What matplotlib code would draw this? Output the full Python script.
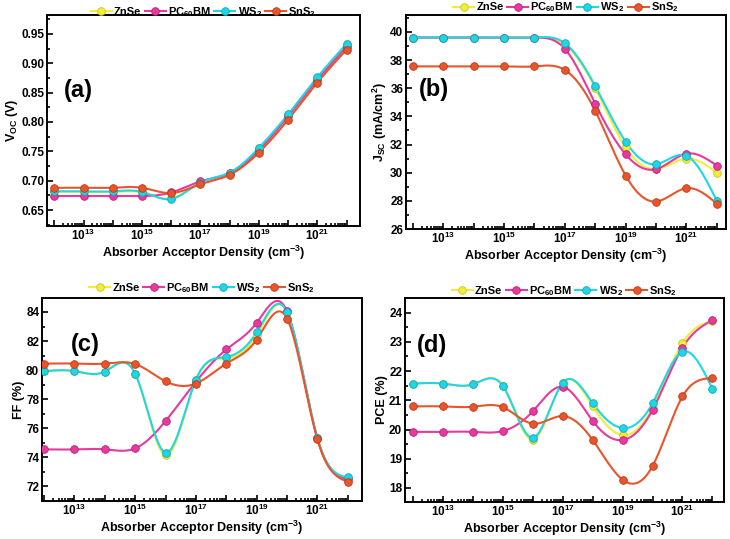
import numpy as np
import matplotlib
matplotlib.use('Agg')
import matplotlib.pyplot as plt
from matplotlib.ticker import FixedLocator, FuncFormatter, MultipleLocator

plt.rcParams['font.family'] = ['Liberation Sans', 'DejaVu Sans']
plt.rcParams['font.weight'] = 'bold'
plt.rcParams['mathtext.fontset'] = 'custom'
plt.rcParams['mathtext.rm'] = 'Liberation Sans:bold'
plt.rcParams['mathtext.it'] = 'Liberation Sans:bold'
plt.rcParams['mathtext.bf'] = 'Liberation Sans:bold'
plt.rcParams['mathtext.default'] = 'bf'

# absorber acceptor density (cm^-3)
density = [1e12, 1e13, 1e14, 1e15, 1e16, 1e17, 1e18, 1e19, 1e20, 1e21, 1e22]

names = ['ZnSe', 'PC$_{60}$BM', 'WS$_2$', 'SnS$_2$']
colors = ['#F2EE38', '#E8399F', '#1FD6E6', '#E8552B']
edges = ['#C9C420', '#B8207A', '#12A8B8', '#B83A18']

voc_znse = [0.681, 0.681, 0.681, 0.680, 0.670, 0.697, 0.713, 0.755, 0.812, 0.875, 0.932]
voc_pcbm = [0.674, 0.674, 0.674, 0.674, 0.680, 0.699, 0.713, 0.752, 0.810, 0.872, 0.928]
voc_ws2 = [0.682, 0.682, 0.682, 0.681, 0.669, 0.697, 0.714, 0.756, 0.813, 0.876, 0.933]
voc_sns2 = [0.688, 0.688, 0.688, 0.688, 0.679, 0.694, 0.710, 0.748, 0.804, 0.867, 0.923]

jsc_znse = [39.6, 39.6, 39.6, 39.6, 39.6, 39.1, 36.0, 31.8, 30.25, 31.0, 30.0]
jsc_pcbm = [39.6, 39.6, 39.6, 39.6, 39.6, 38.8, 34.9, 31.3, 30.25, 31.35, 30.5]
jsc_ws2 = [39.6, 39.6, 39.6, 39.6, 39.6, 39.2, 36.15, 32.2, 30.6, 31.2, 28.0]
jsc_sns2 = [37.55, 37.55, 37.55, 37.55, 37.55, 37.3, 34.4, 29.8, 27.95, 28.9, 27.8]

ff_znse = [79.93, 79.93, 79.9, 79.75, 74.15, 79.3, 80.8, 82.4, 84.0, 75.3, 72.6]
ff_pcbm = [74.55, 74.55, 74.55, 74.62, 76.5, 79.2, 81.42, 83.25, 84.05, 75.3, 72.5]
ff_ws2 = [79.93, 79.93, 79.9, 79.75, 74.33, 79.35, 80.9, 82.6, 84.0, 75.35, 72.62]
ff_sns2 = [80.45, 80.45, 80.45, 80.42, 79.23, 79.08, 80.45, 82.1, 83.55, 75.25, 72.33]

pce_znse = [21.57, 21.57, 21.55, 21.48, 19.65, 21.6, 20.79, 19.81, 20.75, 22.96, 23.72]
pce_pcbm = [19.92, 19.92, 19.92, 19.95, 20.63, 21.46, 20.29, 19.64, 20.67, 22.8, 23.74]
pce_ws2 = [21.57, 21.57, 21.55, 21.48, 19.72, 21.6, 20.9, 20.05, 20.9, 22.66, 21.4]
pce_sns2 = [20.79, 20.79, 20.78, 20.76, 20.2, 20.46, 19.64, 18.28, 18.75, 21.13, 21.76]

panels = [
    ('(a)', 'V$_{OC}$ (V)', [voc_znse, voc_pcbm, voc_ws2, voc_sns2]),
    ('(b)', 'J$_{SC}$ (mA/cm$^2$)', [jsc_znse, jsc_pcbm, jsc_ws2, jsc_sns2]),
    ('(c)', 'FF (%)', [ff_znse, ff_pcbm, ff_ws2, ff_sns2]),
    ('(d)', 'PCE (%)', [pce_znse, pce_pcbm, pce_ws2, pce_sns2]),
]

# axes boxes in pixels: left, right, top, bottom
boxes = [(47, 360, 15, 226), (406, 726, 15, 229), (42, 362, 298, 501), (405, 724, 298, 502)]
xlims = [(11.75, 22.46), (11.78, 22.3), (11.93, 22.47), (11.72, 22.39)]
ylims = [(0.623, 0.982), (26, 41.2), (71.0, 84.96), (17.52, 24.5)]
ymajor = [0.05, 2, 2, 1]
yminor = [0.025, 1, 1, 0.5]
label_pos = [(0.10, 0.64), (0.086, 0.65), (0.134, 0.77), (0.085, 0.765)]
legend_y = [1.015, 1.036, 1.05, 1.035]


def NaturalSpline(xp, yp, num=400):
    xp = np.asarray(xp, float)
    yp = np.asarray(yp, float)
    n = len(xp)
    h = np.diff(xp)
    A = np.zeros((n, n))
    b = np.zeros(n)
    A[0, 0] = 1
    A[-1, -1] = 1
    for i in range(1, n - 1):
        A[i, i - 1] = h[i - 1]
        A[i, i] = 2 * (h[i - 1] + h[i])
        A[i, i + 1] = h[i]
        b[i] = 6 * ((yp[i + 1] - yp[i]) / h[i] - (yp[i] - yp[i - 1]) / h[i - 1])
    M = np.linalg.solve(A, b)
    xs = np.linspace(xp[0], xp[-1], num)
    idx = np.clip(np.searchsorted(xp, xs) - 1, 0, n - 2)
    x0, x1 = xp[idx], xp[idx + 1]
    hh = x1 - x0
    t0, t1 = x1 - xs, xs - x0
    ys = (M[idx] * t0 ** 3 / (6 * hh) + M[idx + 1] * t1 ** 3 / (6 * hh)
          + (yp[idx] / hh - M[idx] * hh / 6) * t0
          + (yp[idx + 1] / hh - M[idx + 1] * hh / 6) * t1)
    return xs, ys


def DecadeLabel(value, pos):
    e = int(round(np.log10(value)))
    if e % 2 == 1:
        return r'10$^{%d}$' % e
    return ''


fig = plt.figure(figsize=(7.3, 5.39), dpi=100)
W, H = 730, 539
logx = np.log10(density)

for k, (tag, ylabel, series) in enumerate(panels):
    l, r, t, btm = boxes[k]
    ax = fig.add_axes([l / W, 1 - btm / H, (r - l) / W, (btm - t) / H])
    handles = []
    for name, col, ec, vals in zip(names, colors, edges, series):
        xs, ys = NaturalSpline(logx, vals)
        ax.plot(10 ** xs, ys, color=col, lw=1.5, zorder=2)
        ax.plot(density, vals, 'o', ms=5.5, mfc=col, mec=ec, mew=0.6, zorder=3)
        h, = ax.plot([], [], color=col, lw=1.5, marker='o', ms=5.5, mfc=col, mec=ec, mew=0.6)
        handles.append(h)
    ax.set_xscale('log')
    ax.set_xlim(10 ** xlims[k][0], 10 ** xlims[k][1])
    ax.set_ylim(*ylims[k])
    ax.xaxis.set_major_locator(FixedLocator(density))
    ax.xaxis.set_major_formatter(FuncFormatter(DecadeLabel))
    ax.xaxis.set_minor_locator(FixedLocator([m * d for d in density[:-1] for m in range(2, 10)]))
    ax.yaxis.set_major_locator(MultipleLocator(ymajor[k]))
    ax.yaxis.set_minor_locator(MultipleLocator(yminor[k]))
    ax.tick_params(which='both', direction='in', top=False, right=False, labelsize=8.5, width=1.2)
    ax.tick_params(which='major', length=4)
    ax.tick_params(which='minor', length=2)
    ax.tick_params(axis='x', pad=1.5)
    ax.tick_params(axis='y', pad=2)
    for s in ax.spines.values():
        s.set_linewidth(1.4)
    ax.set_xlabel('Absorber Acceptor Density (cm$^{-3}$)', fontsize=9, fontweight='bold', labelpad=0.5)
    ax.set_ylabel(ylabel, fontsize=9, fontweight='bold', labelpad=1)
    ax.text(label_pos[k][0], label_pos[k][1], tag, transform=ax.transAxes,
            fontsize=17, fontweight='bold', ha='center', va='center')
    ax.legend(handles, names, loc='center', bbox_to_anchor=(0.5, legend_y[k]), ncol=4,
              frameon=False, fontsize=8, handlelength=1.9, handletextpad=0.2,
              columnspacing=0.3, borderpad=0, borderaxespad=0)

fig.savefig('out.png', dpi=100)
